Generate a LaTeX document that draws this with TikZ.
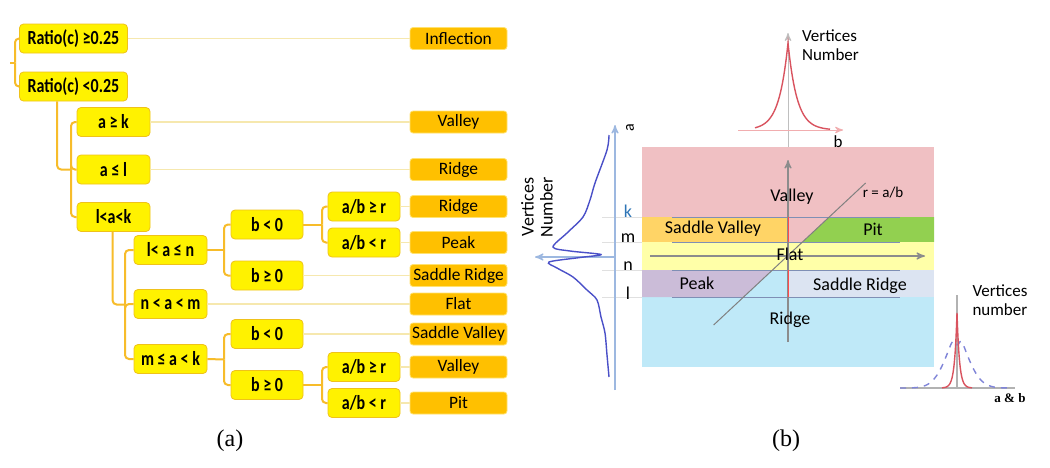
\documentclass[tikz,border=0pt]{standalone}
\usepackage{fontspec}
\setmainfont{Carlito}
\newfontfamily\condfont[FakeStretch=0.8]{Carlito}
\newfontfamily\capfont{Liberation Serif}
\usetikzlibrary{positioning}
\usetikzlibrary{calc}
\usetikzlibrary{arrows}
\definecolor{condyel}{HTML}{FFF200}
\definecolor{condedge}{HTML}{EFC21A}
\definecolor{resorange}{HTML}{FFC000}
\definecolor{resedge}{HTML}{FFE270}
\definecolor{brcol}{HTML}{F7BC2A}
\definecolor{tiecol}{HTML}{F6E8AE}
\definecolor{pinkband}{HTML}{F0C0C3}
\definecolor{svband}{HTML}{FFD466}
\definecolor{pitband}{HTML}{92D050}
\definecolor{flatband}{HTML}{FFFFA8}
\definecolor{peakband}{HTML}{CBBCD8}
\definecolor{srband}{HTML}{DCE4F2}
\definecolor{ridgeband}{HTML}{BFE9F8}
\definecolor{lvlcol}{HTML}{7F8FB5}
\definecolor{distblue}{HTML}{4A50C8}
\definecolor{distred}{HTML}{D9535F}
\definecolor{axblue}{HTML}{9DB8E0}
\definecolor{kblue}{HTML}{2E75B6}
\tikzset{>=stealth'}
\tikzset{cond/.style={draw=condedge, fill=condyel, rounded corners=2pt, minimum height=14.5pt, minimum width=#1, inner sep=0pt, font=\condfont\bfseries\fontsize{10}{11}\selectfont}, cond/.default=36.5pt}
\tikzset{res/.style={draw=resedge, fill=resorange, rounded corners=1.5pt, minimum height=11pt, minimum width=48.5pt, inner sep=0pt, font=\fontsize{8.7}{9}\selectfont}}
\tikzset{br/.style={draw=brcol, line width=1pt, rounded corners=2pt}}
\tikzset{tie/.style={draw=tiecol, line width=0.6pt}}
\tikzset{zone/.style={font=\fontsize{9}{10}\selectfont}}
\tikzset{lvl/.style={draw=lvlcol, line width=0.5pt}}

\begin{document}
\begin{tikzpicture}[x=0.5pt, y=-0.5pt]
\fill[white] (0,0) rectangle (1050,467);
\useasboundingbox (0,0) rectangle (1050,467);

%%% (a) the condition tree

\node[cond=54pt] (rc1) at (73.5,38.5) {Ratio(c) ≥0.25};
\node[cond=54pt] (rc2) at (73.5,86.5) {Ratio(c) <0.25};
\coordinate (root) at (10,62.5);
\coordinate (j1) at (15,62.5);
\draw[br] (root) -- (j1);
\draw[br] (j1) |- (rc1.west);
\draw[br] (j1) |- (rc2.west);

\node[cond] (agk) at (113.5,122) {a ≥ k};
\node[cond] (alk) at (113.5,169.5) {a ≤ l};
\node[cond] (lak) at (113.5,217) {l<a<k};
\coordinate (j2) at (71,169.5);
\draw[br] ($(rc2.south west)+(38,0)$) |- (j2);
\draw[br] (j2) |- (agk.west);
\draw[br] (j2) |- (alk.west);
\draw[br] (j2) |- (lak.west);

\node[cond] (lan) at (170.5,250) {l< a ≤ n};
\node[cond] (nam) at (170.5,304) {n < a < m};
\node[cond] (mak) at (170.5,359) {m ≤ a < k};
\coordinate (j3) at (125,304.5);
\draw[br] ($(lak.south west)+(36,0)$) |- (j3);
\draw[br] (j3) |- (lan.west);
\draw[br] (j3) |- (nam.west);
\draw[br] (j3) |- (mak.west);

\node[cond=36pt] (bn1) at (267,224.5) {b < 0};
\node[cond=36pt] (bp1) at (267,275.5) {b ≥ 0};
\node[cond=36pt] (bn2) at (267,334) {b < 0};
\node[cond=36pt] (bp2) at (267,385) {b ≥ 0};
\coordinate (j4) at (224,250);
\coordinate (j5) at (224,359.5);
\draw[br] (lan.east) -- (j4);
\draw[br] (j4) |- (bn1.west);
\draw[br] (j4) |- (bp1.west);
\draw[br] (mak.east) -- (j5);
\draw[br] (j5) |- (bn2.west);
\draw[br] (j5) |- (bp2.west);

\node[cond=36pt] (abg1) at (364,206.5) {a/b ≥ r};
\node[cond=36pt] (abl1) at (364,242.5) {a/b < r};
\node[cond=36pt] (abg2) at (364,367) {a/b ≥ r};
\node[cond=36pt] (abl2) at (364,403) {a/b < r};
\coordinate (j6) at (322,224.5);
\coordinate (j7) at (322,385);
\draw[br] (bn1.east) -- (j6);
\draw[br] (j6) |- (abg1.west);
\draw[br] (j6) |- (abl1.west);
\draw[br] (bp2.east) -- (j7);
\draw[br] (j7) |- (abg2.west);
\draw[br] (j7) |- (abl2.west);

%%% the outcomes
\node[res] (infl) at (458.5,38.5) {Inflection};
\node[res] (valley1) at (458.5,122) {Valley};
\node[res] (ridge1) at (458.5,169.5) {Ridge};
\node[res] (ridge2) at (458.5,206.5) {Ridge};
\node[res] (peak) at (458.5,242.5) {Peak};
\node[res] (sridge) at (458.5,275.5) {Saddle Ridge};
\node[res] (flat) at (458.5,304) {Flat};
\node[res] (svalley) at (458.5,334) {Saddle Valley};
\node[res] (valley2) at (458.5,367) {Valley};
\node[res] (pit) at (458.5,403) {Pit};

\draw[tie] (rc1.east) -- (infl.west);
\draw[tie] (agk.east) -- (valley1.west);
\draw[tie] (alk.east) -- (ridge1.west);
\draw[tie] (abg1.east) -- (ridge2.west);
\draw[tie] (abl1.east) -- (peak.west);
\draw[tie] (bp1.east) -- (sridge.west);
\draw[tie] (nam.east) -- (flat.west);
\draw[tie] (bn2.east) -- (svalley.west);
\draw[tie] (abg2.east) -- (valley2.west);
\draw[tie] (abl2.east) -- (pit.west);

%%% (b) the a-b plane

\fill[pinkband] (642,147) rectangle (934,242);
\fill[svband] (642,217) rectangle (788,242);
\fill[pitband] (829.2,217) -- (934,217) -- (934,242) -- (802.5,242) -- cycle;
\fill[flatband] (642,242) rectangle (934,270);
\fill[ridgeband] (642,270) rectangle (934,367);
\fill[peakband] (642,270) -- (772.5,270) -- (743.6,297) -- (642,297) -- cycle;
\fill[srband] (788,270) rectangle (934,297);

\foreach \yy in {217,242,270,297} {
  \draw[lvl] (672,\yy) -- (900,\yy);
  \draw[black!12, line width=0.4pt] (602,\yy) -- (642,\yy);
}

\draw[black!45, line width=0.6pt, ->] (788,342) -- (788,160);
\draw[black!45, line width=0.6pt, ->] (650,256) -- (925,256);
\draw[red!70, line width=0.5pt] (788,217) -- (788,242);
\draw[red!70, line width=0.5pt] (788,270) -- (788,297);
\draw[black!50, line width=0.5pt] (713.6,325) -- (865.6,183);

\node[zone] (zvalley) at (792,197) {Valley};
\node[font=\fontsize{7.5}{8}\selectfont] (ratio) at (883,193) {r = a/b};
\node[zone] (zsv) at (713,229) {Saddle Valley};
\node[zone] (zpit) at (873,229) {Pit};
\node[zone] (zflat) at (790,254) {Flat};
\node[zone] (zpeak) at (697,283) {Peak};
\node[zone] (zsr) at (860,286) {Saddle Ridge};
\node[zone] (zridge) at (790,320) {Ridge};

\node[zone, text=kblue] (lk) at (628,211) {k};
\node[zone] (lm) at (628,238) {m};
\node[zone] (ln) at (628,266) {n};
\node[zone] (ll) at (628,293) {l};

%%% distribution of a
\draw[axblue, line width=0.6pt, ->] (615,390) -- (615,125);
\draw[axblue, line width=0.6pt, ->] (615,257) -- (535,257);
\draw[distblue, line width=0.7pt] plot[smooth] coordinates {
  (609,135) (607,150) (595,183) (590,200) (583,217) (567,233) (553,247)
  (570,251) (601,254.5) (580,257.5) (549,262) (557,268) (573,277)
  (587,290) (597,300) (601,317) (605,333) (607,355) (609,377)};
\node[rotate=90, font=\fontsize{8}{8.5}\selectfont] (dcap) at (630,128) {a};
\node[rotate=90, align=center, font=\fontsize{9}{9.5}\selectfont] (vna) at (537,207) {Vertices\\Number};

%%% distribution of b
\draw[black!25, line width=0.5pt, ->] (788,147) -- (788,33);
\draw[pinkband!90!red, line width=0.5pt, ->] (738,130) -- (843,130);
\draw[distred, line width=0.7pt] plot[domain=755:830, samples=151] ({\x}, {130-87*exp(-abs(\x-788)/9)});
\node[anchor=west, align=left, font=\fontsize{8.5}{9.5}\selectfont] (vnb) at (795,45) {Vertices\\Number};
\node[font=\fontsize{8.5}{9}\selectfont] (bcap) at (838,142) {b};

%%% both together
\draw[black!30, line width=0.6pt] (957,388) -- (957,295);
\draw[black!30, line width=0.6pt] (900,388) -- (1015,388);
\draw[distblue!70, line width=0.7pt, dashed] plot[domain=900:1012, samples=113] ({\x}, {388-58*exp(-((\x-957)/17)^2*0.6-abs(\x-957)/30)*(1-0.25*exp(-(\x-957)^2/10))});
\draw[distred, line width=0.7pt] plot[domain=942:972, samples=121] ({\x}, {388-75*exp(-abs(\x-957)/2.5)});
\node[align=left, font=\fontsize{8.5}{9.5}\selectfont] (vnab) at (1000,300) {Vertices\\number};
\node[font=\capfont\bfseries\fontsize{6.5}{7}\selectfont] (abcap) at (1010,398) {a \& b};

%%% captions
\node[font=\capfont\fontsize{12}{13}\selectfont] (capa) at (230,441) {(a)};
\node[font=\capfont\fontsize{12}{13}\selectfont] (capb) at (786,441) {(b)};

\end{tikzpicture}
\end{document}
